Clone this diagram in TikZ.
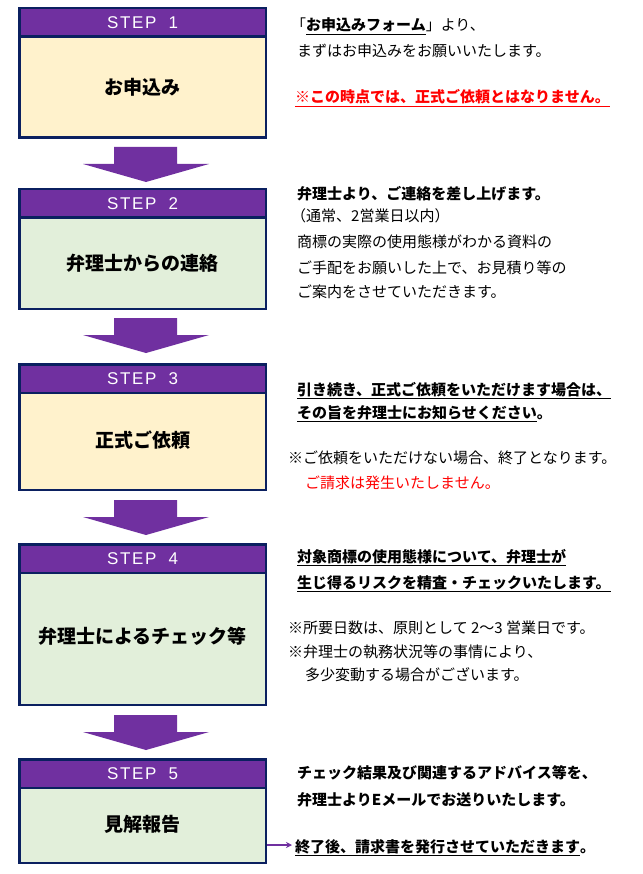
\documentclass[tikz,border=0pt]{standalone}
\usepackage{fontspec}
\setmainfont{Noto Sans CJK JP}
\newfontfamily\stepfont[LetterSpace=10]{Liberation Sans}
\usetikzlibrary{arrows.meta}
\definecolor{cpurple}{HTML}{7030A0}
\definecolor{cnavy}{HTML}{0B2060}
\definecolor{cyellow}{HTML}{FFF2CC}
\definecolor{cgreen}{HTML}{E2EFDA}
\definecolor{cred}{HTML}{FF0000}
\newcommand{\flowarrow}[1]{\fill[cpurple] (114,#1) -- (177,#1) -- (177,#1+17) -- (209,#1+17) -- (146,#1+35) -- (83,#1+17) -- (114,#1+17) -- cycle;}
\tikzset{
  stepbox/.style={draw=cnavy, line width=2.5pt, minimum width=246.5pt, inner sep=0pt},
  headbox/.style={draw=cnavy, line width=2.5pt, fill=cpurple, minimum width=246.5pt, minimum height=28.5pt, inner sep=0pt, anchor=north, text=white, font=\stepfont\fontsize{17}{17}\selectfont},
  titletext/.style={font=\fontsize{19}{19}\selectfont\bfseries, inner sep=0pt},
  desc/.style={anchor=base west, inner sep=0pt, font=\fontsize{15}{15}\selectfont},
}
\begin{document}
\begin{tikzpicture}[x=1pt,y=-1pt]
\useasboundingbox[fill=white] (0,0) rectangle (642,874);
% STEP 1
\node[stepbox, fill=cyellow, minimum height=129.5pt] (s1) at (142.5,73) {};
\node[headbox] (h1) at (s1.north) {STEP\hspace{12pt}1};
\node[titletext] (t1) at (142.5,87) {お申込み};
% STEP 2
\node[stepbox, fill=cgreen, minimum height=119.5pt] (s2) at (142.5,249) {};
\node[headbox] (h2) at (s2.north) {STEP\hspace{12pt}2};
\node[titletext] (t2) at (142.5,263) {弁理士からの連絡};
% STEP 3
\node[stepbox, fill=cyellow, minimum height=125.5pt] (s3) at (142.5,427) {};
\node[headbox] (h3) at (s3.north) {STEP\hspace{12pt}3};
\node[titletext] (t3) at (142.5,440) {正式ご依頼};
% STEP 4
\node[stepbox, fill=cgreen, minimum height=160.5pt] (s4) at (142.5,624.5) {};
\node[headbox] (h4) at (s4.north) {STEP\hspace{12pt}4};
\node[titletext] (t4) at (142.5,636) {弁理士によるチェック等};
% STEP 5
\node[stepbox, fill=cgreen, minimum height=103.5pt] (s5) at (142.5,811) {};
\node[headbox] (h5) at (s5.north) {STEP\hspace{12pt}5};
\node[titletext] (t5) at (142.5,824) {見解報告};
% block arrows
\flowarrow{147}
\flowarrow{318}
\flowarrow{500}
\flowarrow{715}
% right texts step 1
\node[desc] (r11) at (291,31) {「\textbf{\underline{お申込みフォーム}}」より、};
\node[desc] (r12) at (297,57) {まずはお申込みをお願いいたします。};
\node[desc, text=cred] (r13) at (295,103) {\textbf{\underline{※この時点では、正式ご依頼とはなりません。}}};
% step 2
\node[desc] (r21) at (297,200) {\textbf{弁理士より、ご連絡を差し上げます。}};
\node[desc] (r22) at (291,222) {（通常、2営業日以内）};
\node[desc] (r23) at (297,248) {商標の実際の使用態様がわかる資料の};
\node[desc] (r24) at (297,273) {ご手配をお願いした上で、お見積り等の};
\node[desc] (r25) at (297,298) {ご案内をさせていただきます。};
% step 3
\node[desc] (r31) at (297,395) {\textbf{\underline{引き続き、正式ご依頼をいただけます場合は、}}};
\node[desc] (r32) at (297,418) {\textbf{\underline{その旨を弁理士にお知らせください}。}};
\node[desc] (r33) at (288,463) {※ご依頼をいただけない場合、終了となります。};
\node[desc, text=cred] (r34) at (305,488) {ご請求は発生いたしません。};
% step 4
\node[desc] (r41) at (297,562) {\textbf{\underline{対象商標の使用態様について、弁理士が}}};
\node[desc] (r42) at (297,588) {\textbf{\underline{生じ得るリスクを精査・チェックいたします。}}};
\node[desc] (r43) at (288,633) {※所要日数は、原則として 2～3 営業日です。};
\node[desc] (r44) at (288,657) {※弁理士の執務状況等の事情により、};
\node[desc] (r45) at (305,680) {多少変動する場合がございます。};
% step 5
\node[desc] (r51) at (297,778) {\textbf{チェック結果及び関連するアドバイス等を、}};
\node[desc] (r52) at (297,805) {\textbf{弁理士よりEメールでお送りいたします。}};
\node[desc] (r53) at (295,852) {\textbf{\underline{終了後、請求書を発行させていただきます}。}};
\coordinate (a5s) at (267,845);
\coordinate (a5e) at (292,845);
\draw[cpurple, line width=1.5pt, -{Stealth[length=6pt,width=6pt]}] (a5s) -- (a5e);
\end{tikzpicture}
\end{document}
